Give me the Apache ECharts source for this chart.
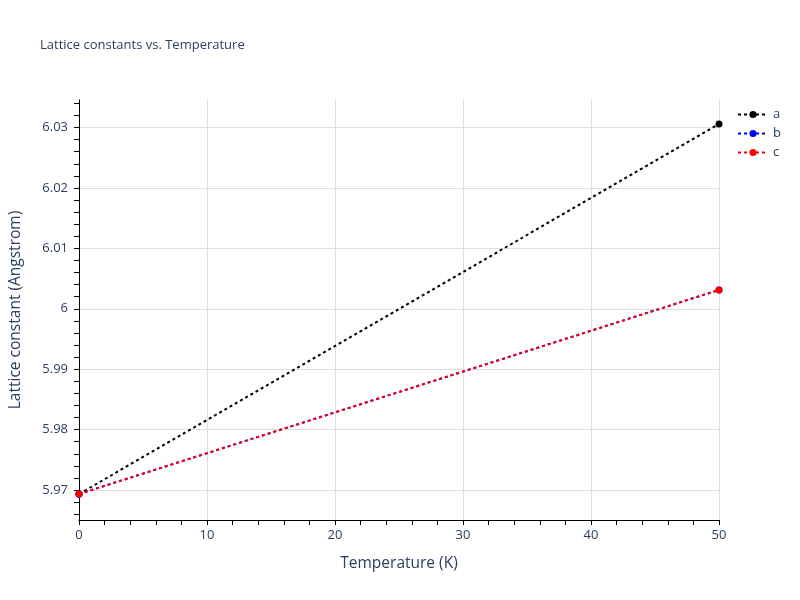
<!DOCTYPE html>
<html>
<head>
<meta charset="utf-8">
<script src="https://cdn.jsdelivr.net/npm/echarts@6/dist/echarts.min.js"></script>
<style>html,body{margin:0;padding:0;background:#fff}#c{width:800px;height:600px}</style>
</head>
<body>
<div id="c"></div>
<script>
var temperatures = [0, 50];
var seriesA = [5.96935, 6.03058];
var seriesB = [5.96935, 6.00312];
var seriesC = [5.96935, 6.00312];
var yMajorTicks = [5.97, 5.98, 5.99, 6.00, 6.01, 6.02, 6.03];
var yMinorTicks = [5.966, 5.968, 5.970, 5.972, 5.974, 5.976, 5.978, 5.980, 5.982, 5.984, 5.986, 5.988, 5.990, 5.992, 5.994, 5.996, 5.998, 6.000, 6.002, 6.004, 6.006, 6.008, 6.010, 6.012, 6.014, 6.016, 6.018, 6.020, 6.022, 6.024, 6.026, 6.028, 6.030, 6.032, 6.034];
var yMin = 5.96505, yMax = 6.03455;

var txt = '#2a3f5f';
var font = '"Open Sans", Verdana, Arial, sans-serif';
var chart = echarts.init(document.getElementById('c'));
function mk(name, data, color, z) {
  return {
    name: name, type: 'line', z: z,
    data: temperatures.map(function (t, i) { return [t, data[i]]; }),
    symbol: 'circle', symbolSize: 7, showSymbol: true,
    lineStyle: { color: color, width: 2, type: [3, 3] },
    itemStyle: { color: color },
    emphasis: { disabled: true },
    animation: false
  };
}
chart.setOption({
  animation: false,
  title: {
    text: 'Lattice constants vs. Temperature',
    left: 35, top: 34,
    textStyle: { fontFamily: font, fontSize: 13, fontWeight: 'normal', color: txt }
  },
  legend: {
    orient: 'vertical', left: 732, top: 103, itemGap: 6,
    itemWidth: 30, itemHeight: 9,
    textStyle: { fontFamily: font, fontSize: 13, color: txt },
    data: ['a', 'b', 'c']
  },
  grid: { left: 79, right: 81, top: 100, bottom: 80, containLabel: false },
  xAxis: {
    type: 'value', min: 0, max: 50, interval: 10,
    name: 'Temperature (K)', nameLocation: 'middle', nameGap: 36,
    nameTextStyle: { fontFamily: font, fontSize: 15.5, color: txt },
    axisLine: { show: true, lineStyle: { color: '#000', width: 1 } },
    axisTick: { show: true, length: 5, lineStyle: { color: '#000' } },
    minorTick: { show: true, splitNumber: 5, length: 5, lineStyle: { color: '#000' } },
    axisLabel: { fontFamily: font, fontSize: 13, color: txt, margin: 9 },
    splitLine: { show: true, lineStyle: { color: '#dedede', width: 1 } }
  },
  yAxis: [{
    type: 'value', min: yMin, max: yMax, position: 'left',
    name: 'Lattice constant (Angstrom)', nameLocation: 'middle', nameGap: 55,
    nameTextStyle: { fontFamily: font, fontSize: 15.5, color: txt },
    axisLine: { show: true, lineStyle: { color: '#000', width: 1 } },
    axisTick: { show: false, customValues: yMajorTicks },
    axisLabel: {
      customValues: yMajorTicks, fontFamily: font, fontSize: 13, color: txt, margin: 11,
      formatter: function (v) { return String(+(+v).toFixed(3)); }
    },
    splitLine: { show: true, lineStyle: { color: '#dedede', width: 1 } }
  }, {
    type: 'value', min: yMin, max: yMax, position: 'left', offset: 0,
    axisLine: { show: true, lineStyle: { color: '#000', width: 1 } },
    axisTick: { show: true, length: 5, customValues: yMinorTicks, lineStyle: { color: '#000' } },
    axisLabel: { show: false, customValues: yMinorTicks },
    splitLine: { show: false }
  }],
  series: [
    mk('a', seriesA, '#000000', 3),
    mk('b', seriesB, '#0000ff', 4),
    mk('c', seriesC, '#ff0000', 5)
  ]
});
</script>
</body>
</html>
